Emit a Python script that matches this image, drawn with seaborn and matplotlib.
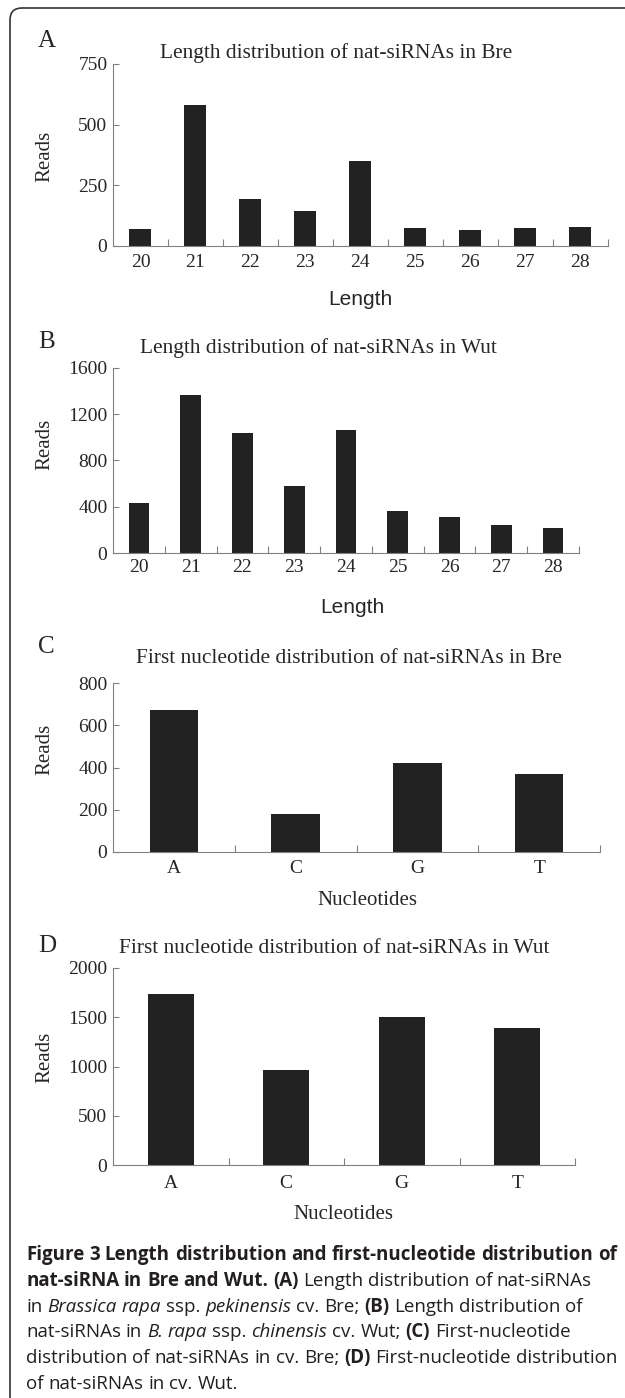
import matplotlib
matplotlib.use("Agg")
import matplotlib.pyplot as plt
import matplotlib.transforms as mtransforms
from matplotlib.patches import FancyBboxPatch
import numpy as np
import pandas as pd
import seaborn as sns

# values
lengths = ["20", "21", "22", "23", "24", "25", "26", "27", "28"]
bre_length = [68, 580, 195, 146, 349, 73, 67, 73, 78]
wut_length = [432, 1366, 1039, 579, 1068, 367, 312, 240, 214]
nucleotides = ["A", "C", "G", "T"]
bre_first = [672, 181, 421, 368]
wut_first = [1740, 963, 1500, 1386]

W, H = 625, 1398
sns.set_style("ticks")
plt.rcParams["font.family"] = ["Liberation Serif", "DejaVu Serif"]

fig = plt.figure(figsize=(W / 100, H / 100), dpi=100)
fig.patch.set_facecolor("white")

SERIF = "Liberation Serif"
BAR = "#222222"
AXC = "#808080"
TICK_FS = 14


def fx(x):
    return x / W


def fy(y):
    return 1 - y / H


def panel(cats, vals, left, right, top, bottom, ymax, yticks, pad):
    ax = fig.add_axes([fx(left), fy(bottom), (right - left) / W, (bottom - top) / H])
    df = pd.DataFrame({"cat": cats, "val": vals})
    sns.barplot(data=df, x="cat", y="val", order=cats, color=BAR, saturation=1,
                width=0.4, linewidth=0, ax=ax)
    n = len(cats)
    ax.set_xlim(-0.5, n - 0.5)
    ax.set_ylim(0, ymax)
    ax.set_yticks(yticks)
    ax.set_xticks(np.arange(n))
    ax.set_xticks(np.arange(n) + 0.5, minor=True)
    ax.set_xlabel("")
    ax.set_ylabel("")
    sns.despine(ax=ax)
    for s in ["left", "bottom"]:
        ax.spines[s].set_color(AXC)
        ax.spines[s].set_linewidth(0.8)
    ax.tick_params(axis="x", which="major", length=0, pad=pad, labelsize=TICK_FS)
    ax.tick_params(axis="x", which="minor", direction="in", length=5, width=0.8, color=AXC)
    ax.tick_params(axis="y", direction="in", length=4, width=0.8, color=AXC, pad=4, labelsize=TICK_FS)
    for lab in ax.get_xticklabels() + ax.get_yticklabels():
        lab.set_family(SERIF)
    ax.patch.set_alpha(0)
    return ax


panel(lengths, bre_length, 113, 607.6, 64, 246, 750, [0, 250, 500, 750], 5.5)
panel(lengths, wut_length, 113, 579, 368, 553, 1600, [0, 400, 800, 1200, 1600], 4)
panel(nucleotides, bre_first, 113, 600, 683, 852, 800, [0, 200, 400, 600, 800], 6)
panel(nucleotides, wut_first, 113, 575, 968, 1165, 2000, [0, 500, 1000, 1500, 2000], 7.5)

# panel letters, titles and axis labels
for letter, y in [("A", 47), ("B", 348), ("C", 653), ("D", 952)]:
    fig.text(fx(38), fy(y), letter, family=SERIF, fontsize=18, va="baseline")

titles = [
    ("Length distribution of nat-siRNAs in Bre", 336, 58),
    ("Length distribution of nat-siRNAs in Wut", 318, 353),
    ("First nucleotide distribution of nat-siRNAs in Bre", 349, 663),
    ("First nucleotide distribution of nat-siRNAs in Wut", 334, 953),
]
for txt, x, y in titles:
    fig.text(fx(x), fy(y), txt, family=SERIF, fontsize=15.4, ha="center", va="baseline")

for y in [156, 444, 749, 1057]:
    fig.text(fx(45), fy(y), "Reads", family=SERIF, fontsize=15, rotation=90,
             ha="center", va="center")

fig.text(fx(360), fy(305), "Length", family="Liberation Sans", fontsize=15, ha="center", va="baseline")
fig.text(fx(352), fy(613), "Length", family="Liberation Sans", fontsize=15, ha="center", va="baseline")
fig.text(fx(367), fy(905), "Nucleotides", family=SERIF, fontsize=15, ha="center", va="baseline")
fig.text(fx(343), fy(1219), "Nucleotides", family=SERIF, fontsize=15, ha="center", va="baseline")

# caption with mixed styles
caption = [
    [("Figure 3 Length distribution and first-nucleotide distribution of", "b")],
    [("nat-siRNA in Bre and Wut. (A)", "b"), ("Length distribution of nat-siRNAs", "r")],
    [("in", "r"), ("Brassica rapa", "i"), ("ssp.", "r"), ("pekinensis", "i"),
     ("cv. Bre;", "r"), ("(B)", "b"), ("Length distribution of", "r")],
    [("nat-siRNAs in", "r"), ("B. rapa", "i"), ("ssp.", "r"), ("chinensis", "i"),
     ("cv. Wut;", "r"), ("(C)", "b"), ("First-nucleotide", "r")],
    [("distribution of nat-siRNAs in cv. Bre;", "r"), ("(D)", "b"),
     ("First-nucleotide distribution", "r")],
    [("of nat-siRNAs in cv. Wut.", "r")],
]
CAP = "Open Sans"
cap_size = 13.5
renderer = fig.canvas.get_renderer()


def style(k):
    return dict(fontweight="bold" if k == "b" else "normal",
                fontstyle="italic" if k == "i" else "normal")


def text_w(s, k):
    t = fig.text(0, 0, s, family=CAP, fontsize=cap_size, **style(k))
    w = t.get_window_extent(renderer).width
    t.remove()
    return w


for i, line in enumerate(caption):
    y = 1260 + 25.8 * i
    x = 26
    for seg, k in line:
        sp = text_w("a a", k) - text_w("aa", k)
        for word in seg.split(" "):
            t = fig.text(fx(x), fy(y), word, family=CAP, fontsize=cap_size,
                         va="baseline", color="#231f20", **style(k))
            x += t.get_window_extent(renderer).width + sp

# outer frame with rounded corner
frame = FancyBboxPatch((10, -30), 700, H - 8 + 30, boxstyle="round,pad=0,rounding_size=12",
                       transform=mtransforms.IdentityTransform(), fill=False,
                       edgecolor="#333333", linewidth=1.2)
fig.add_artist(frame)

fig.savefig("out.png", dpi=100)
